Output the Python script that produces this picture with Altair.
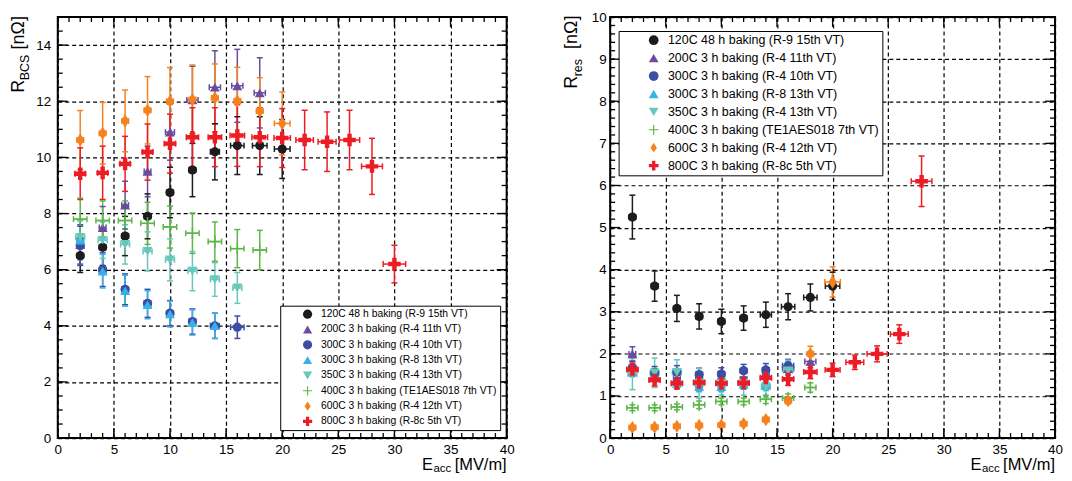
import altair as alt
import pandas as pd

FONT = "Liberation Sans"

SERIES = [
    "120C 48 h baking (R-9 15th VT)",
    "200C 3 h baking (R-4 11th VT)",
    "300C 3 h baking (R-4 10th VT)",
    "300C 3 h baking (R-8 13th VT)",
    "350C 3 h baking (R-4 13th VT)",
    "400C 3 h baking (TE1AES018 7th VT)",
    "600C 3 h baking (R-4 12th VT)",
    "800C 3 h baking (R-8c 5th VT)",
]
COLORS = ["#1c1c1c", "#6a4b9e", "#3b4ea3", "#38b1e7", "#67c7ba", "#5cb748", "#f6821f", "#ed1c24"]
PLUS = "M-1,-0.12H1V0.12H-1Z M-0.12,-1H0.12V1H-0.12Z"
DIAMOND = "M0,-1L0.66,0L0,1L-0.66,0Z"
FATCROSS = "M-0.35,-1H0.35V-0.35H1V0.35H0.35V1H-0.35V0.35H-1V-0.35H-0.35Z"
SHAPES = ["circle", "triangle-up", "circle", "triangle-up", "triangle-down", PLUS, DIAMOND, FATCROSS]
SIZES = [85, 100, 85, 100, 100, 150, 175, 160]

# ---------------- left panel: R_BCS ----------------
bcs_e_120 = [2, 4, 6, 8, 10, 12, 14, 16, 18, 20]
bcs_r_120 = [6.5, 6.8, 7.2, 7.9, 8.75, 9.55, 10.2, 10.42, 10.42, 10.3]
bcs_dy_120 = [0.6, 0.65, 0.7, 0.8, 0.9, 0.95, 1.0, 1.03, 1.03, 1.05]
bcs_dx_120 = [0.3, 0.3, 0.3, 0.3, 0.3, 0.3, 0.4, 0.6, 0.65, 0.7]

bcs_e_200 = [2, 4, 6, 8, 10, 12, 14, 16, 18]
bcs_r_200 = [6.9, 7.5, 8.3, 9.5, 10.9, 12.05, 12.5, 12.55, 12.3]
bcs_dy_200 = [0.7, 0.75, 0.85, 0.9, 1.0, 1.2, 1.3, 1.3, 1.25]
bcs_dx_200 = [0.3, 0.3, 0.3, 0.3, 0.4, 0.5, 0.5, 0.5, 0.5]

bcs_e_300a = [2, 4, 6, 8, 10, 12, 14, 16]
bcs_r_300a = [6.85, 6.0, 5.3, 4.8, 4.45, 4.15, 4.0, 3.95]
bcs_dy_300a = [0.7, 0.6, 0.55, 0.5, 0.45, 0.45, 0.45, 0.4]
bcs_dx_300a = [0.3, 0.3, 0.3, 0.3, 0.3, 0.3, 0.4, 0.6]

bcs_e_300b = [2, 4, 6, 8, 10, 12, 14]
bcs_r_300b = [7.05, 5.95, 5.25, 4.75, 4.42, 4.12, 4.0]
bcs_dy_300b = [0.7, 0.6, 0.55, 0.5, 0.46, 0.45, 0.45]
bcs_dx_300b = [0.3, 0.3, 0.3, 0.3, 0.3, 0.3, 0.3]

bcs_e_350 = [2, 4, 6, 8, 10, 12, 14, 16]
bcs_r_350 = [7.15, 7.05, 6.9, 6.65, 6.35, 5.95, 5.65, 5.35]
bcs_dy_350 = [0.6, 0.65, 0.7, 0.7, 0.75, 0.7, 0.6, 0.55]
bcs_dx_350 = [0.4, 0.4, 0.4, 0.4, 0.4, 0.4, 0.4, 0.4]

bcs_e_400 = [2, 4, 6, 8, 10, 12, 14, 16, 18]
bcs_r_400 = [7.8, 7.75, 7.75, 7.65, 7.52, 7.3, 7.0, 6.75, 6.7]
bcs_dy_400 = [0.75, 0.7, 0.7, 0.75, 0.75, 0.72, 0.7, 0.68, 0.7]
bcs_dx_400 = [0.6, 0.6, 0.6, 0.6, 0.6, 0.6, 0.6, 0.6, 0.6]

bcs_e_600 = [2, 4, 6, 8, 10, 12, 14, 16, 18, 20]
bcs_r_600 = [10.62, 10.86, 11.3, 11.68, 12.0, 12.06, 12.12, 12.01, 11.65, 11.21]
bcs_dy_600 = [1.05, 1.1, 1.1, 1.2, 1.2, 1.23, 1.21, 1.2, 1.19, 1.12]
bcs_dx_600 = [0.3, 0.3, 0.3, 0.3, 0.3, 0.3, 0.3, 0.3, 0.3, 0.7]

bcs_e_800 = [2, 4, 6, 8, 10, 12, 14, 16, 18, 20, 22, 24, 26, 28, 30]
bcs_r_800 = [9.42, 9.45, 9.77, 10.19, 10.49, 10.72, 10.72, 10.78, 10.72, 10.69, 10.62, 10.56, 10.62, 9.68, 6.2]
bcs_dy_800 = [0.92, 0.95, 0.98, 1.0, 1.05, 1.05, 1.05, 1.1, 1.05, 1.05, 1.06, 1.06, 1.06, 1.0, 0.67]
bcs_dx_800 = [0.45, 0.45, 0.45, 0.45, 0.5, 0.55, 0.6, 0.65, 0.7, 0.73, 0.78, 0.8, 0.9, 0.93, 1.0]

# ---------------- right panel: R_res ----------------
res_e_120 = [2, 4, 6, 8, 10, 12, 14, 16, 18, 20]
res_r_120 = [5.25, 3.61, 3.08, 2.89, 2.77, 2.85, 2.93, 3.12, 3.34, 3.61]
res_dy_120 = [0.52, 0.36, 0.31, 0.3, 0.29, 0.29, 0.3, 0.31, 0.32, 0.33]
res_dx_120 = [0.3, 0.3, 0.3, 0.3, 0.3, 0.3, 0.5, 0.6, 0.6, 0.65]

res_e_200 = [2, 4, 6, 8, 10, 12, 14, 16, 18]
res_r_200 = [2.0, 1.5, 1.42, 1.38, 1.36, 1.4, 1.5, 1.65, 1.82]
res_dy_200 = [0.17, 0.15, 0.15, 0.15, 0.15, 0.15, 0.15, 0.15, 0.15]
res_dx_200 = [0.3, 0.3, 0.3, 0.3, 0.3, 0.3, 0.3, 0.5, 0.5]

res_e_300a = [2, 4, 6, 8, 10, 12, 14, 16]
res_r_300a = [1.67, 1.55, 1.57, 1.51, 1.52, 1.6, 1.62, 1.72]
res_dy_300a = [0.15, 0.15, 0.15, 0.15, 0.15, 0.15, 0.15, 0.15]
res_dx_300a = [0.3, 0.3, 0.3, 0.3, 0.3, 0.3, 0.3, 0.5]

res_e_300b = [2, 4, 6, 8, 10, 12, 14]
res_r_300b = [1.58, 1.45, 1.3, 1.22, 1.22, 1.28, 1.25]
res_dy_300b = [0.12, 0.12, 0.12, 0.12, 0.12, 0.12, 0.12]
res_dx_300b = [0.3, 0.3, 0.3, 0.3, 0.3, 0.3, 0.3]

res_e_350 = [2, 4, 6, 8, 10, 12, 14, 16]
res_r_350 = [1.52, 1.55, 1.56, 1.3, 1.3, 1.3, 1.22, 1.6]
res_dy_350 = [0.37, 0.35, 0.3, 0.35, 0.28, 0.28, 0.25, 0.25]
res_dx_350 = [0.4, 0.4, 0.4, 0.4, 0.4, 0.4, 0.4, 0.4]

res_e_400 = [2, 4, 6, 8, 10, 12, 14, 16, 18]
res_r_400 = [0.72, 0.72, 0.74, 0.79, 0.87, 0.87, 0.92, 0.95, 1.2]
res_dy_400 = [0.07, 0.07, 0.07, 0.09, 0.08, 0.08, 0.1, 0.1, 0.11]
res_dx_400 = [0.5, 0.5, 0.5, 0.5, 0.5, 0.5, 0.5, 0.5, 0.5]

res_e_600 = [2, 4, 6, 8, 10, 12, 14, 16, 18, 20]
res_r_600 = [0.25, 0.26, 0.28, 0.3, 0.31, 0.34, 0.44, 0.89, 2.0, 3.71]
res_dy_600 = [0.03, 0.03, 0.03, 0.03, 0.03, 0.03, 0.05, 0.08, 0.18, 0.36]
res_dx_600 = [0.3, 0.3, 0.3, 0.3, 0.3, 0.3, 0.3, 0.3, 0.3, 0.7]

res_e_800 = [2, 4, 6, 8, 10, 12, 14, 16, 18, 20, 22, 24, 26, 28]
res_r_800 = [1.63, 1.38, 1.3, 1.32, 1.3, 1.31, 1.43, 1.4, 1.57, 1.62, 1.8, 2.0, 2.47, 6.1]
res_dy_800 = [0.15, 0.14, 0.13, 0.13, 0.13, 0.13, 0.14, 0.15, 0.16, 0.16, 0.17, 0.19, 0.22, 0.6]
res_dx_800 = [0.5, 0.5, 0.5, 0.5, 0.5, 0.5, 0.5, 0.5, 0.6, 0.67, 0.8, 0.9, 0.8, 0.93]

# axis tick values
X_LABELS = [0, 5, 10, 15, 20, 25, 30, 35, 40]
BCS_Y_LABELS = [0, 2, 4, 6, 8, 10, 12, 14]
RES_Y_LABELS = [0, 1, 2, 3, 4, 5, 6, 7, 8, 9, 10]
X_MINOR = list(range(0, 41))
BCS_Y_MINOR = [i * 0.5 for i in range(0, 31)]
RES_Y_MINOR = [round(i * 0.2, 1) for i in range(0, 51)]

SIZE_OF = dict(zip(SERIES, SIZES))


def build(groups):
    rows = []
    for name, e, r, dy, dx in groups:
        for a, b, c, d in zip(e, r, dy, dx):
            rows.append({"series": name, "E": a, "R": b, "lo": b - c, "hi": b + c,
                         "xlo": a - d, "xhi": a + d, "sz": SIZE_OF[name]})
    return pd.DataFrame(rows)


bcs_df = build([
    (SERIES[0], bcs_e_120, bcs_r_120, bcs_dy_120, bcs_dx_120),
    (SERIES[1], bcs_e_200, bcs_r_200, bcs_dy_200, bcs_dx_200),
    (SERIES[2], bcs_e_300a, bcs_r_300a, bcs_dy_300a, bcs_dx_300a),
    (SERIES[3], bcs_e_300b, bcs_r_300b, bcs_dy_300b, bcs_dx_300b),
    (SERIES[4], bcs_e_350, bcs_r_350, bcs_dy_350, bcs_dx_350),
    (SERIES[5], bcs_e_400, bcs_r_400, bcs_dy_400, bcs_dx_400),
    (SERIES[6], bcs_e_600, bcs_r_600, bcs_dy_600, bcs_dx_600),
    (SERIES[7], bcs_e_800, bcs_r_800, bcs_dy_800, bcs_dx_800),
])
res_df = build([
    (SERIES[0], res_e_120, res_r_120, res_dy_120, res_dx_120),
    (SERIES[1], res_e_200, res_r_200, res_dy_200, res_dx_200),
    (SERIES[2], res_e_300a, res_r_300a, res_dy_300a, res_dx_300a),
    (SERIES[3], res_e_300b, res_r_300b, res_dy_300b, res_dx_300b),
    (SERIES[4], res_e_350, res_r_350, res_dy_350, res_dx_350),
    (SERIES[5], res_e_400, res_r_400, res_dy_400, res_dx_400),
    (SERIES[6], res_e_600, res_r_600, res_dy_600, res_dx_600),
    (SERIES[7], res_e_800, res_r_800, res_dy_800, res_dx_800),
])


def panel(df, W, H, ymax, ylabels, yminor, legend, sub, lab_pad, ty):
    xs = alt.Scale(domain=[0, 40], nice=False, zero=False)
    ys = alt.Scale(domain=[0, ymax], nice=False, zero=False)
    grid = dict(grid=True, gridColor="black", gridDash=[4, 3], gridWidth=1.2, gridOpacity=1)
    xaxis = alt.Axis(values=X_LABELS, title=None, domain=False, ticks=False, labelFlush=False,
                     labelFont=FONT, labelFontSize=13.5, labelColor="black", labelPadding=4, **grid)
    yaxis = alt.Axis(values=ylabels, title=None, domain=False, ticks=False,
                     labelFont=FONT, labelFontSize=13.5, labelColor="black",
                     labelPadding=lab_pad, **grid)

    def X(f):
        return alt.X(f, scale=xs, axis=xaxis)

    def Y(f):
        return alt.Y(f, scale=ys, axis=yaxis)

    strk = alt.Stroke("series:N", scale=alt.Scale(domain=SERIES, range=COLORS), legend=None)
    base = alt.Chart(df)
    sw = 1.5
    vbar = base.mark_rule(strokeWidth=sw).encode(x=X("E:Q"), y=Y("lo:Q"), y2="hi:Q", stroke=strk)
    vcap_lo = base.mark_rule(strokeWidth=sw, xOffset=-3, x2Offset=3).encode(
        x=X("E:Q"), x2="E:Q", y=Y("lo:Q"), stroke=strk)
    vcap_hi = base.mark_rule(strokeWidth=sw, xOffset=-3, x2Offset=3).encode(
        x=X("E:Q"), x2="E:Q", y=Y("hi:Q"), stroke=strk)
    hbar = base.mark_rule(strokeWidth=sw).encode(x=X("xlo:Q"), x2="xhi:Q", y=Y("R:Q"), stroke=strk)
    hcap_lo = base.mark_rule(strokeWidth=sw, yOffset=-3, y2Offset=3).encode(
        x=X("xlo:Q"), y=Y("R:Q"), y2="R:Q", stroke=strk)
    hcap_hi = base.mark_rule(strokeWidth=sw, yOffset=-3, y2Offset=3).encode(
        x=X("xhi:Q"), y=Y("R:Q"), y2="R:Q", stroke=strk)
    pts = base.mark_point(filled=True, opacity=1).encode(
        x=X("E:Q"), y=Y("R:Q"),
        color=alt.Color("series:N", scale=alt.Scale(domain=SERIES, range=COLORS), legend=legend),
        shape=alt.Shape("series:N", scale=alt.Scale(domain=SERIES, range=SHAPES), legend=legend),
        size=alt.Size("sz:Q", scale=None, legend=None),
    )
    layers = [vbar, vcap_lo, vcap_hi, hbar, hcap_lo, hcap_hi, pts]

    # inward ROOT-style ticks on all four sides
    xmaj = pd.DataFrame({"v": X_LABELS})
    xmin = pd.DataFrame({"v": X_MINOR})
    ymaj = pd.DataFrame({"v": ylabels})
    ymin = pd.DataFrame({"v": yminor})
    tk = dict(color="black", strokeWidth=1.3)
    for d, L in ((xmin, 5), (xmaj, 10)):
        layers.append(alt.Chart(d).mark_rule(**tk).encode(
            x=X("v:Q"), y=alt.value(H), y2=alt.value(H - L)))
        layers.append(alt.Chart(d).mark_rule(**tk).encode(
            x=X("v:Q"), y=alt.value(0), y2=alt.value(L)))
    for d, L in ((ymin, 5), (ymaj, 10)):
        layers.append(alt.Chart(d).mark_rule(**tk).encode(
            y=Y("v:Q"), x=alt.value(0), x2=alt.value(L)))
        layers.append(alt.Chart(d).mark_rule(**tk).encode(
            y=Y("v:Q"), x=alt.value(W), x2=alt.value(W - L)))

    def txt(t, x, y, size, angle=0, align="left"):
        kw = dict(font=FONT, fontSize=size, color="black", align=align, baseline="alphabetic")
        if angle:
            kw["angle"] = angle
        return alt.Chart(pd.DataFrame({"t": [t]})).mark_text(**kw).encode(
            text="t:N", x=alt.value(x), y=alt.value(y))

    r_y, s_y, b_y = ty
    layers += [
        txt("R", -33.5, r_y, 18, 270),
        txt(sub, -28.5, s_y, 12.5, 270),
        txt("[nΩ]", -33.5, b_y, 18, 270),
        txt("E", W - 85, H + 32, 16.5),
        txt("acc", W - 73.5, H + 34, 11.5),
        txt("[MV/m]", W, H + 32, 16.5, 0, "right"),
    ]
    return alt.layer(*layers).properties(width=W, height=H)


leg_left = alt.Legend(title=None, orient="none", legendX=223.5, legendY=290,
                      fillColor="white", strokeColor="black", padding=3,
                      labelFont=FONT, labelFontSize=10.4, labelColor="black", labelLimit=0,
                      symbolSize=85, rowPadding=4.4, symbolOffset=19, labelOffset=8)
leg_right = alt.Legend(title=None, orient="none", legendX=8.5, legendY=14,
                       fillColor="white", strokeColor="black", padding=3,
                       labelFont=FONT, labelFontSize=12.5, labelColor="black", labelLimit=0,
                       symbolSize=95, rowPadding=5.0, symbolOffset=26, labelOffset=8)

left = panel(bcs_df, 451, 423, 15, BCS_Y_LABELS, BCS_Y_MINOR, leg_left, "BCS", 7,
             (76, 63.5, 32.5))
right = panel(res_df, 447, 423, 10, RES_Y_LABELS, RES_Y_MINOR, leg_right, "res", 4,
              (72, 59.5, 32))

chart = alt.hconcat(left, right, spacing=46).resolve_legend(
    color="independent", shape="independent"
).properties(
    padding={"left": 1, "top": 0, "right": 0, "bottom": 0},
    background="white",
).configure_view(stroke="black", strokeWidth=2)

chart.save("out.html", embed_options={"renderer": "svg", "actions": False})
